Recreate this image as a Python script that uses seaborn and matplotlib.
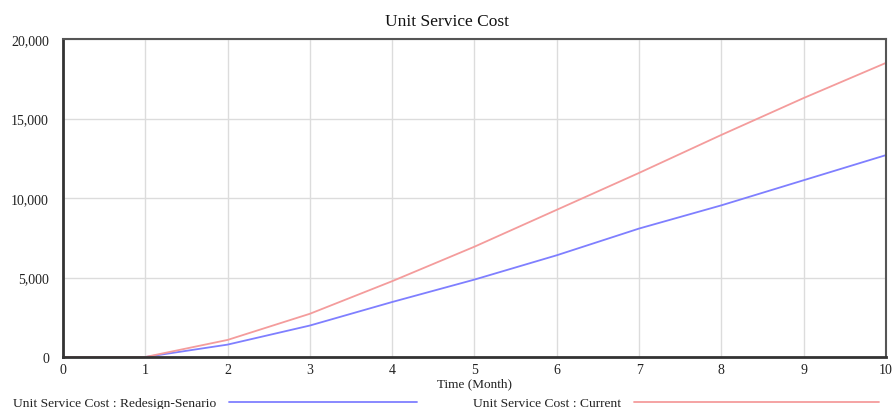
import numpy as np
import pandas as pd
import matplotlib.pyplot as plt
import seaborn as sns
from matplotlib.ticker import FuncFormatter

# data
months = [0, 1, 2, 3, 4, 5, 6, 7, 8, 9, 10]
redesign = [0, 0, 780, 1980, 3460, 4870, 6400, 8080, 9540, 11120, 12700]
current = [0, 0, 1075, 2720, 4770, 6940, 9260, 11580, 13970, 16290, 18500]

lbl_redesign = "Unit Service Cost : Redesign-Senario"
lbl_current = "Unit Service Cost : Current"

df = pd.DataFrame({
    "month": months * 2,
    "cost": redesign + current,
    "series": [lbl_redesign] * len(months) + [lbl_current] * len(months),
})

sns.set_theme(style="white")
plt.rcParams["font.family"] = ["Liberation Serif", "DejaVu Serif"]

fig = plt.figure(figsize=(8.92, 4.10), dpi=100)
ax = fig.add_axes([0.0706, 0.1268, 0.9227, 0.7756])

palette = {lbl_redesign: "#7f7fff", lbl_current: "#f49c9c"}
sns.lineplot(data=df, x="month", y="cost", hue="series", palette=palette,
             linewidth=1.3, ax=ax, legend=False)

ax.set_xlim(0, 10)
ax.set_ylim(0, 20000)
ax.set_xticks(range(0, 11))
ax.set_yticks([0, 5000, 10000, 15000, 20000])
ax.yaxis.set_major_formatter(FuncFormatter(lambda v, p: f"{int(v):,}"))
ax.tick_params(axis="y", length=0, labelsize=10, colors="#222222", pad=10)
ax.tick_params(axis="x", length=0, labelsize=10, colors="#222222", pad=4)
ax.grid(True, color="#dcdcdc", linewidth=1)
for side in ["left", "bottom"]:
    ax.spines[side].set_color("#333333")
    ax.spines[side].set_linewidth(2)
for side in ["top", "right"]:
    ax.spines[side].set_color("#555555")
    ax.spines[side].set_linewidth(1.5)

fig.suptitle("Unit Service Cost", x=0.501, y=0.967, fontsize=12.5, color="#111111")
ax.set_xlabel("Time (Month)", fontsize=9.5, labelpad=1, color="#222222")
ax.set_ylabel("")

# legend below, text first then the line sample
lines = ax.get_lines()
fig.legend([lines[0]], [lbl_redesign], loc="lower left",
           bbox_to_anchor=(0.008, -0.014), frameon=False, markerfirst=False,
           fontsize=9.7, handlelength=14, handletextpad=0.95,
           borderaxespad=0, labelcolor="#222222")
fig.legend([lines[1]], [lbl_current], loc="lower left",
           bbox_to_anchor=(0.524, -0.014), frameon=False, markerfirst=False,
           fontsize=9.7, handlelength=18.2, handletextpad=0.95,
           borderaxespad=0, labelcolor="#222222")

fig.savefig("out.png", dpi=100)
